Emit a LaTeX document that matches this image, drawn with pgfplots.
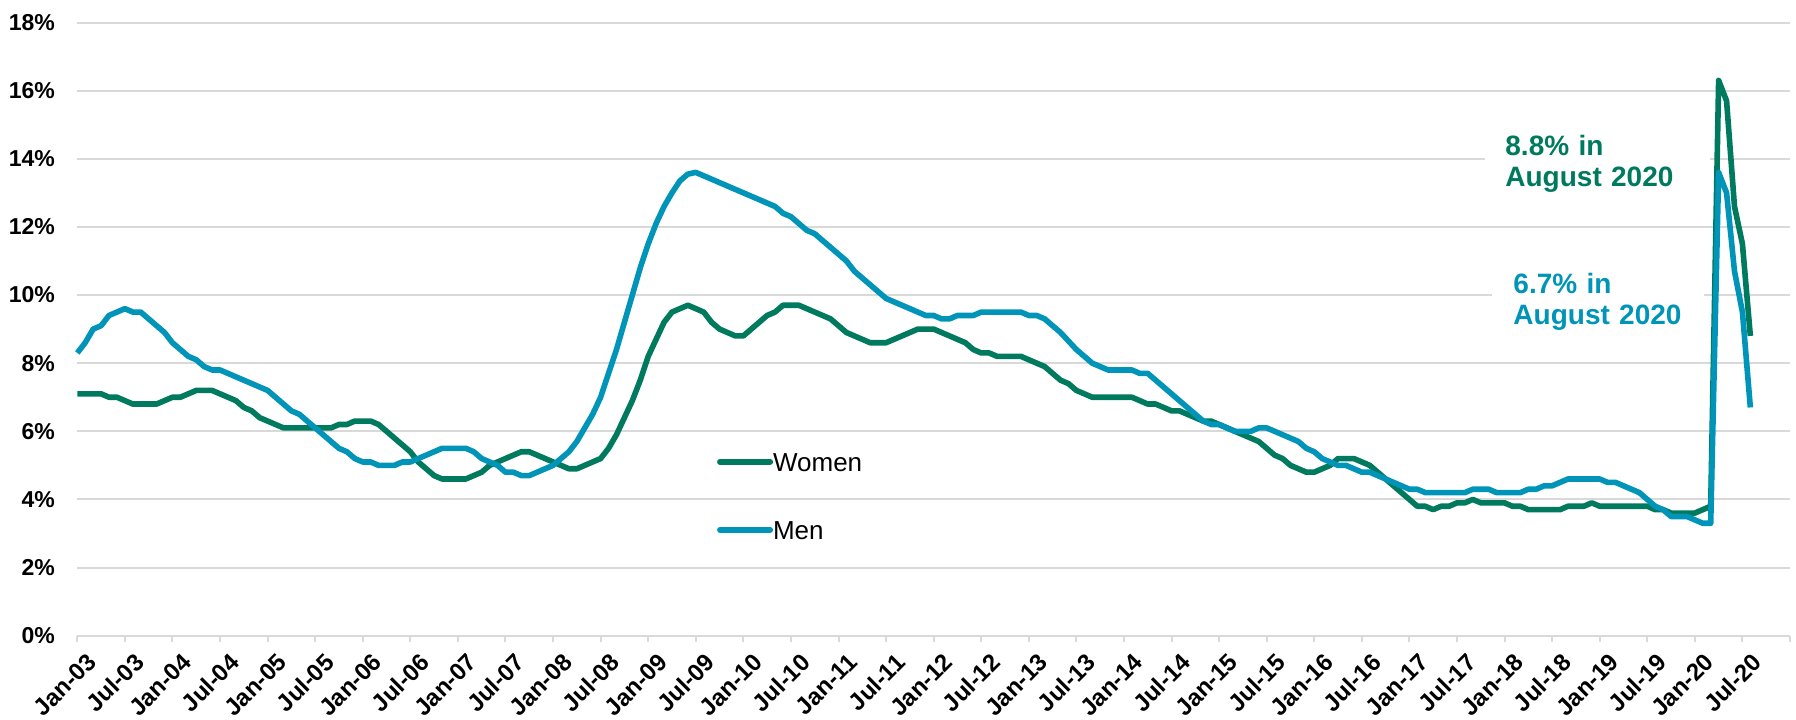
\documentclass[border=0pt]{standalone}
\usepackage{pgfplots}
\pgfplotsset{compat=1.18}
\usepackage{pgfplotstable}
\usepackage{fontspec}
\setmainfont{Liberation Sans}
\definecolor{wgreen}{HTML}{007A5E}
\definecolor{mblue}{HTML}{0095B8}
\definecolor{gridgray}{HTML}{D9D9D9}

\pgfplotstableread{
m women men
0 7.1 8.3
1 7.1 8.6
2 7.1 9.0
3 7.1 9.1
4 7.0 9.4
5 7.0 9.5
6 6.9 9.6
7 6.8 9.5
8 6.8 9.5
9 6.8 9.3
10 6.8 9.1
11 6.9 8.9
12 7.0 8.6
13 7.0 8.4
14 7.1 8.2
15 7.2 8.1
16 7.2 7.9
17 7.2 7.8
18 7.1 7.8
19 7.0 7.7
20 6.9 7.6
21 6.7 7.5
22 6.6 7.4
23 6.4 7.3
24 6.3 7.2
25 6.2 7.0
26 6.1 6.8
27 6.1 6.6
28 6.1 6.5
29 6.1 6.3
30 6.1 6.1
31 6.1 5.9
32 6.1 5.7
33 6.2 5.5
34 6.2 5.4
35 6.3 5.2
36 6.3 5.1
37 6.3 5.1
38 6.2 5.0
39 6.0 5.0
40 5.8 5.0
41 5.6 5.1
42 5.4 5.1
43 5.1 5.2
44 4.9 5.3
45 4.7 5.4
46 4.6 5.5
47 4.6 5.5
48 4.6 5.5
49 4.6 5.5
50 4.7 5.4
51 4.8 5.2
52 5.0 5.1
53 5.1 5.0
54 5.2 4.8
55 5.3 4.8
56 5.4 4.7
57 5.4 4.7
58 5.3 4.8
59 5.2 4.9
60 5.1 5.0
61 5.0 5.2
62 4.9 5.4
63 4.9 5.7
64 5.0 6.1
65 5.1 6.5
66 5.2 7.0
67 5.5 7.7
68 5.9 8.4
69 6.4 9.2
70 6.9 10.0
71 7.5 10.8
72 8.2 11.5
73 8.7 12.1
74 9.2 12.6
75 9.5 13.0
76 9.6 13.35
77 9.7 13.55
78 9.6 13.6
79 9.5 13.5
80 9.2 13.4
81 9.0 13.3
82 8.9 13.2
83 8.8 13.1
84 8.8 13.0
85 9.0 12.9
86 9.2 12.8
87 9.4 12.7
88 9.5 12.6
89 9.7 12.4
90 9.7 12.3
91 9.7 12.1
92 9.6 11.9
93 9.5 11.8
94 9.4 11.6
95 9.3 11.4
96 9.1 11.2
97 8.9 11.0
98 8.8 10.7
99 8.7 10.5
100 8.6 10.3
101 8.6 10.1
102 8.6 9.9
103 8.7 9.8
104 8.8 9.7
105 8.9 9.6
106 9.0 9.5
107 9.0 9.4
108 9.0 9.4
109 8.9 9.3
110 8.8 9.3
111 8.7 9.4
112 8.6 9.4
113 8.4 9.4
114 8.3 9.5
115 8.3 9.5
116 8.2 9.5
117 8.2 9.5
118 8.2 9.5
119 8.2 9.5
120 8.1 9.4
121 8.0 9.4
122 7.9 9.3
123 7.7 9.1
124 7.5 8.9
125 7.4 8.65
126 7.2 8.4
127 7.1 8.2
128 7.0 8.0
129 7.0 7.9
130 7.0 7.8
131 7.0 7.8
132 7.0 7.8
133 7.0 7.8
134 6.9 7.7
135 6.8 7.7
136 6.8 7.5
137 6.7 7.3
138 6.6 7.1
139 6.6 6.9
140 6.5 6.7
141 6.4 6.5
142 6.3 6.3
143 6.3 6.2
144 6.2 6.2
145 6.1 6.1
146 6.0 6.0
147 5.9 6.0
148 5.8 6.0
149 5.7 6.1
150 5.5 6.1
151 5.3 6.0
152 5.2 5.9
153 5.0 5.8
154 4.9 5.7
155 4.8 5.5
156 4.8 5.4
157 4.9 5.2
158 5.0 5.1
159 5.2 5.0
160 5.2 5.0
161 5.2 4.9
162 5.1 4.8
163 5.0 4.8
164 4.8 4.7
165 4.6 4.6
166 4.4 4.5
167 4.2 4.4
168 4.0 4.3
169 3.8 4.3
170 3.8 4.2
171 3.7 4.2
172 3.8 4.2
173 3.8 4.2
174 3.9 4.2
175 3.9 4.2
176 4.0 4.3
177 3.9 4.3
178 3.9 4.3
179 3.9 4.2
180 3.9 4.2
181 3.8 4.2
182 3.8 4.2
183 3.7 4.3
184 3.7 4.3
185 3.7 4.4
186 3.7 4.4
187 3.7 4.5
188 3.8 4.6
189 3.8 4.6
190 3.8 4.6
191 3.9 4.6
192 3.8 4.6
193 3.8 4.5
194 3.8 4.5
195 3.8 4.4
196 3.8 4.3
197 3.8 4.2
198 3.8 4.0
199 3.7 3.8
200 3.7 3.7
201 3.6 3.5
202 3.6 3.5
203 3.6 3.5
204 3.6 3.4
205 3.7 3.3
206 3.8 3.3
207 16.3 13.6
208 15.7 13.0
209 12.6 10.7
210 11.5 9.5
211 8.8 6.7
}\datatable

\begin{document}
\begin{tikzpicture}
\path[use as bounding box] (-38.65pt,-41.65pt) rectangle (859.35pt,317.85pt);
\begin{axis}[
  at={(0pt,0pt)}, anchor=south west,
  scale only axis,
  width=856.35pt, height=306.6pt,
  xmin=0, xmax=216, ymin=0, ymax=18,
  clip=false,
  axis x line*=bottom, axis y line*=left,
  x axis line style={-, draw=gridgray, line width=1pt},
  y axis line style={draw=none},
  xtick={0,6,...,216},
  xticklabels={Jan-03,Jul-03,Jan-04,Jul-04,Jan-05,Jul-05,Jan-06,Jul-06,Jan-07,Jul-07,Jan-08,Jul-08,Jan-09,Jul-09,Jan-10,Jul-10,Jan-11,Jul-11,Jan-12,Jul-12,Jan-13,Jul-13,Jan-14,Jul-14,Jan-15,Jul-15,Jan-16,Jul-16,Jan-17,Jul-17,Jan-18,Jul-18,Jan-19,Jul-19,Jan-20,Jul-20,{}},
  ytick={0,2,...,18},
  yticklabels={0\%,2\%,4\%,6\%,8\%,10\%,12\%,14\%,16\%,18\%},
  tick align=outside,
  major tick length=3pt,
  xtick style={draw=gridgray, line width=1pt},
  ytick style={draw=none},
  ymajorgrids,
  major grid style={draw=gridgray, line width=1pt},
  yticklabel style={font=\bfseries\fontsize{11.5pt}{13pt}\selectfont, inner sep=0pt, xshift=-8pt},
  xticklabel style={font=\bfseries\fontsize{12pt}{14pt}\selectfont, rotate=45, anchor=east, inner sep=1pt, xshift=0.5pt, yshift=-11pt},
  legend style={at={(rel axis cs:0.3733,0.2998)}, anchor=north west,
    draw=none, fill=none, inner sep=0pt, row sep=24.5pt,
    font=\fontsize{13pt}{15pt}\selectfont,
    nodes={inner sep=0pt, text height=9.5pt, text depth=0pt}},
  legend cell align=left,
  legend image code/.code={\path[draw=none,fill=none] (0pt,-4.75pt) rectangle (28pt,4.75pt); \draw[#1, line cap=round] (1.4pt,0pt) -- (26.6pt,0pt);},
]
\addplot[wgreen, line width=2.8pt, line join=round] table[x=m, y=women] {\datatable};
\addlegendentry{Women}
\addplot[mblue, line width=2.8pt, line join=round] table[x=m, y=men] {\datatable};
\addlegendentry{Men}
\node[anchor=north west, fill=white, inner xsep=10.3pt, inner ysep=5pt, text width=92pt, align=left, text=wgreen,
  font=\bfseries\fontsize{14pt}{15.5pt}\selectfont]
  at ([xshift=-10.3pt,yshift=5pt]rel axis cs:0.8336,0.8163) {8.8\% in\\August 2020};
\node[anchor=north west, fill=white, inner xsep=10.5pt, inner ysep=5pt, text width=85pt, align=left, text=mblue,
  font=\bfseries\fontsize{14pt}{15.5pt}\selectfont]
  at ([xshift=-10.5pt,yshift=5pt]rel axis cs:0.8383,0.5914) {6.7\% in\\August 2020};
\end{axis}
\end{tikzpicture}
\end{document}
